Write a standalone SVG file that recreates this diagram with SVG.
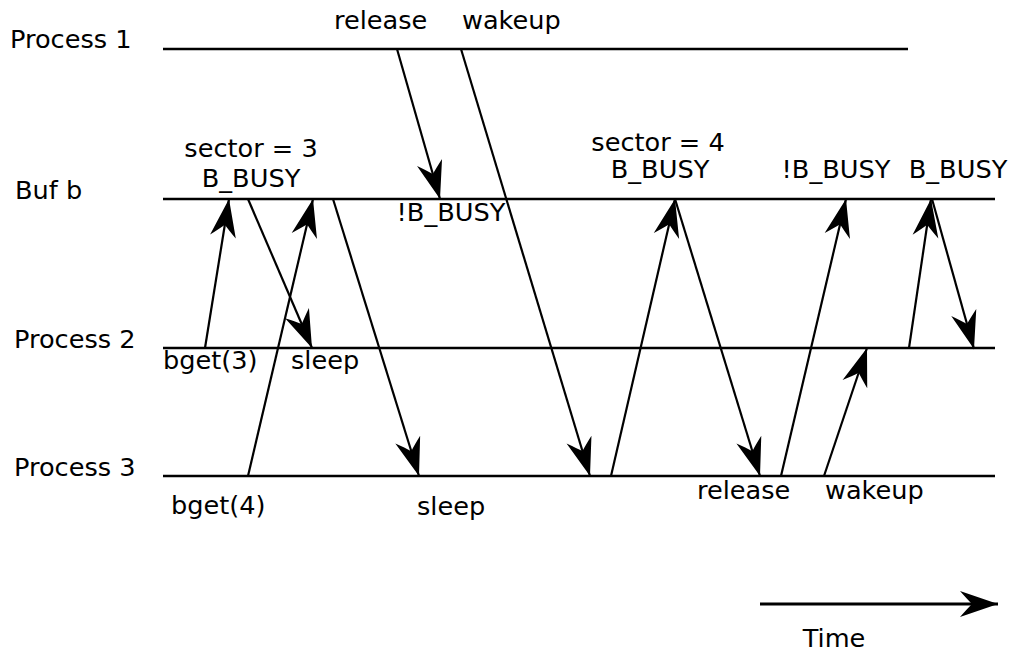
<svg xmlns="http://www.w3.org/2000/svg" width="1009" height="651" viewBox="0 0 1009 651">
<style>
text{font-family:"DejaVu Sans","Liberation Sans",sans-serif;font-size:25.6px;fill:#000}
.ln{stroke:#000;stroke-width:2.4;fill:none}
.ar{stroke:#000;stroke-width:2.2;fill:none;marker-end:url(#ah)}
</style>
<defs>
<marker id="ah" markerUnits="userSpaceOnUse" viewBox="-40 -15 42 30" refX="0" refY="0" markerWidth="42" markerHeight="30" orient="auto">
<path d="M0,0 L-38,-13 Q-31,-5 -26,0 Q-31,5 -38,13 Z" fill="#000"/>
</marker>
</defs>
<rect width="1009" height="651" fill="#fff"/>
<g id="process1">
<line class="ln" x1="163" y1="49" x2="908" y2="49"/>
<text x="10" y="48">Process 1</text>
</g>
<g id="bufb">
<line class="ln" x1="163" y1="199" x2="995" y2="199"/>
<text x="15" y="199">Buf b</text>
</g>
<g id="process2">
<line class="ln" x1="163" y1="348" x2="995" y2="348"/>
<text x="14" y="348">Process 2</text>
</g>
<g id="process3">
<line class="ln" x1="163" y1="476" x2="995" y2="476"/>
<text x="14" y="476">Process 3</text>
</g>
<g id="labels">
<text x="334" y="29">release</text>
<text x="462" y="29">wakeup</text>
<text x="251" y="157" text-anchor="middle">sector = 3</text>
<text x="251" y="187" text-anchor="middle">B_BUSY</text>
<text x="451" y="221" text-anchor="middle">!B_BUSY</text>
<text x="163" y="369">bget(3)</text>
<text x="291" y="369">sleep</text>
<text x="171" y="514">bget(4)</text>
<text x="417" y="515">sleep</text>
<text x="658" y="151" text-anchor="middle">sector = 4</text>
<text x="660" y="178" text-anchor="middle">B_BUSY</text>
<text x="836" y="178" text-anchor="middle">!B_BUSY</text>
<text x="958" y="178" text-anchor="middle">B_BUSY</text>
<text x="697" y="499">release</text>
<text x="825" y="499">wakeup</text>
<text x="834" y="647" text-anchor="middle">Time</text>
</g>
<g id="connectors">
<line class="ar" x1="397" y1="49" x2="440" y2="199"/>
<line class="ar" x1="461" y1="49" x2="590" y2="476"/>
<line class="ar" x1="205" y1="348" x2="229" y2="199"/>
<line class="ar" x1="248" y1="199" x2="312" y2="348"/>
<line class="ar" x1="248" y1="476" x2="313" y2="199"/>
<line class="ar" x1="333" y1="199" x2="419" y2="476"/>
<line class="ar" x1="611" y1="476" x2="675" y2="199"/>
<line class="ar" x1="675" y1="199" x2="760" y2="476"/>
<line class="ar" x1="781" y1="476" x2="846" y2="199"/>
<line class="ar" x1="824" y1="476" x2="867" y2="348"/>
<line class="ar" x1="909" y1="348" x2="931" y2="199"/>
<line class="ar" x1="932" y1="199" x2="974" y2="349"/>
<line class="ar" x1="760" y1="604" x2="998" y2="604" style="stroke-width:2.8"/>
</g>
</svg>
